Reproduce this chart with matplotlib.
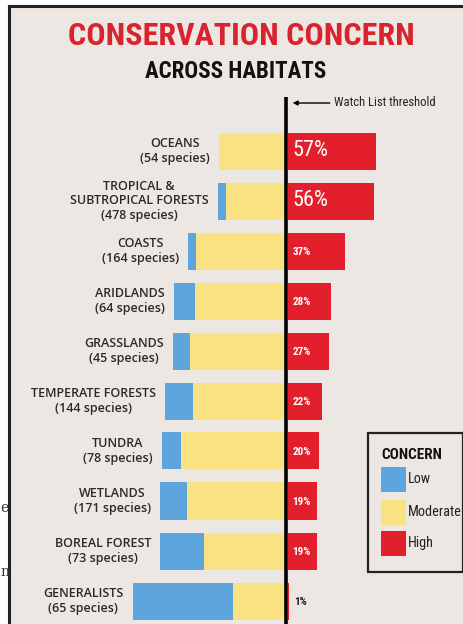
import matplotlib
matplotlib.use("Agg")
import matplotlib.pyplot as plt
from matplotlib.patches import Rectangle
from matplotlib.lines import Line2D

# habitats, top to bottom
habitats = ["OCEANS\n(54 species)",
            "TROPICAL &\nSUBTROPICAL FORESTS\n(478 species)",
            "COASTS\n(164 species)",
            "ARIDLANDS\n(64 species)",
            "GRASSLANDS\n(45 species)",
            "TEMPERATE FORESTS\n(144 species)",
            "TUNDRA\n(78 species)",
            "WETLANDS\n(171 species)",
            "BOREAL FOREST\n(73 species)",
            "GENERALISTS\n(65 species)"]
low = [0, 5, 5, 13, 11, 18, 12, 17, 28, 65]
moderate = [43, 39, 58, 59, 62, 60, 68, 64, 53, 34]
high = [57, 56, 37, 28, 27, 22, 20, 19, 19, 1]

BLUE = "#5EA5DD"
YELLOW = "#F9E282"
RED = "#E31F2B"
BG = "#EDE7E4"

W, H = 464, 624
fig = plt.figure(figsize=(W / 100, H / 100), dpi=100, facecolor="white")

def px(x, y):
    # pixel position (from top-left) -> figure fraction
    return x / W, 1 - y / H

# background panel and frame
fig.patches.append(Rectangle(px(9, 624), 1, (624 - 6) / H, transform=fig.transFigure,
                             facecolor=BG, edgecolor="none", zorder=-5))
fig.add_artist(Line2D([9 / W, 9 / W], [0, 1 - 6 / H], color="#222222", lw=2.2))
fig.add_artist(Line2D([9 / W, 1], [1 - 6 / H, 1 - 6 / H], color="#222222", lw=2.2))

# stray page letters outside the frame
fig.text(*px(0, 508), "e", ha="left", va="center", fontsize=10, family="DejaVu Serif", color="#333333")
fig.text(*px(0, 572), "n", ha="left", va="center", fontsize=10, family="DejaVu Serif", color="#333333")

ax = fig.add_axes([0, 0, 1, 1])
ax.set_zorder(1)
ax.patch.set_alpha(0)
scale = 1.55  # px per percent
zero = 286
ax.set_xlim(-zero / scale, (W - zero) / scale)
ax.set_ylim((H - 151) / 50, -151 / 50)
ax.axis("off")

rows = list(range(len(habitats)))
left_mod = [-m for m in moderate]
left_low = [-(m + l) for m, l in zip(moderate, low)]
ax.barh(rows, moderate, left=left_mod, height=0.74, color=YELLOW, zorder=2)
ax.barh(rows, low, left=left_low, height=0.74, color=BLUE, zorder=2)
ax.barh(rows, high, left=1.0, height=0.74, color=RED, zorder=2)

cond = ["Roboto Condensed", "Roboto", "DejaVu Sans"]
for i, (lab, l, m, h) in enumerate(zip(habitats, low, moderate, high)):
    ax.text(-(l + m) - 6, i, lab, ha="right", va="center", multialignment="center",
            fontsize=9, fontweight="semibold", family="Open Sans", color="#2a2a2a",
            linespacing=1.12, zorder=3)
    if h >= 50:
        ax.text(4, i, f"{h}%", ha="left", va="center", fontsize=16, color="white",
                family=cond, zorder=3)
    elif h >= 5:
        ax.text(4, i + 0.02, f"{h}%", ha="left", va="center", fontsize=8, fontweight="bold",
                color="white", family=cond, zorder=3)
    else:
        ax.text(5, i + 0.02, f"{h}%", ha="left", va="center", fontsize=8, fontweight="bold",
                color="#222222", family=cond, zorder=3)

# threshold line
ax.plot([0, 0], [(97 - 151) / 50, (H - 151) / 50 + 1], color="black", lw=2.6, zorder=4,
        solid_capstyle="butt")
ax.annotate("", xy=(2.5, (103 - 151) / 50), xytext=(30, (103 - 151) / 50),
            arrowprops=dict(arrowstyle="-|>", color="black", lw=1.0, mutation_scale=7))
ax.text(31, (103 - 151) / 50, "Watch List threshold", ha="left", va="center",
        fontsize=9, family=cond, color="#222222")

# titles
fig.text(*px(241, 36), "CONSERVATION CONCERN", ha="center", va="center", fontsize=23,
         fontweight="bold", family=cond, color="#D9232E")
fig.text(*px(236, 71), "ACROSS HABITATS", ha="center", va="center", fontsize=16.5,
         fontweight="bold", family=cond, color="#111111")

# legend box
fig.patches.append(Rectangle(px(368, 572), (463 - 368) / W, (572 - 433) / H,
                             transform=fig.transFigure, facecolor="none",
                             edgecolor="#222222", lw=1.6, zorder=5))
fig.text(*px(381, 455), "CONCERN", ha="left", va="center", fontsize=11, fontweight="bold",
         family=cond, color="#111111", zorder=6)
for name, col, y0 in [("Low", BLUE, 467), ("Moderate", YELLOW, 500), ("High", RED, 531)]:
    fig.patches.append(Rectangle(px(381, y0 + 25), 25 / W, 25 / H, transform=fig.transFigure,
                                 facecolor=col, edgecolor="none", zorder=5))
    fig.text(*px(408, y0 + 12), name, ha="left", va="center", fontsize=10.3,
             family=cond, color="#222222", zorder=6)

fig.savefig("out.png", dpi=100, facecolor="white")
